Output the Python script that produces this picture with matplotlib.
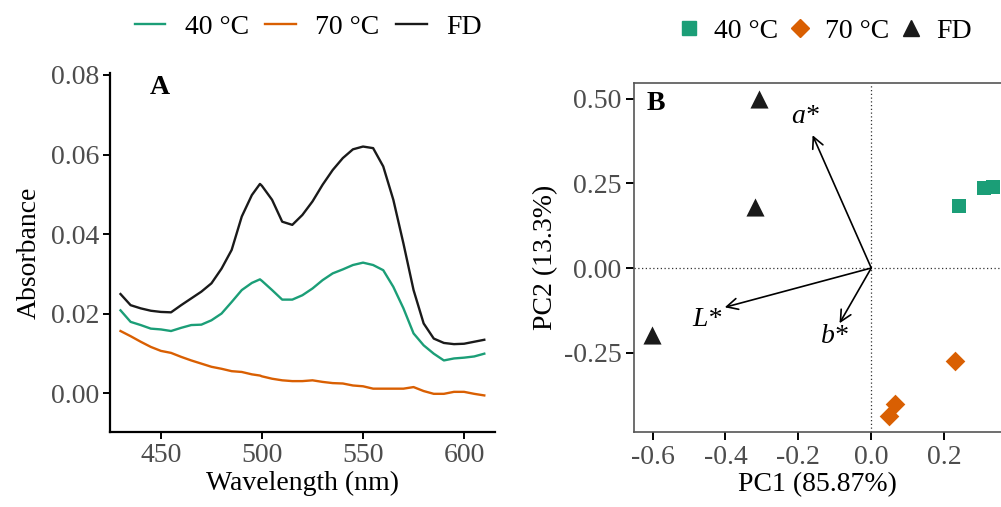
import numpy as np
import matplotlib
matplotlib.use("Agg")
import matplotlib.pyplot as plt
from matplotlib.lines import Line2D

# --- data ---
wavelength = [430, 435, 440, 445, 450, 455, 460, 465, 470, 475, 480, 485, 490, 495, 499,
              500, 505, 510, 515, 520, 525, 530, 535, 540, 545, 550, 555, 560, 565, 570,
              575, 580, 585, 590, 595, 600, 605, 610]
abs_fd = [0.0249, 0.0221, 0.0213, 0.0207, 0.0204, 0.0203, 0.0221, 0.0238, 0.0255, 0.0276,
          0.0313, 0.0360, 0.0444, 0.0498, 0.0526, 0.0521, 0.0486, 0.0431, 0.0423, 0.0448,
          0.0482, 0.0524, 0.0561, 0.0591, 0.0613, 0.0620, 0.0616, 0.0570, 0.0486, 0.0376,
          0.0259, 0.0175, 0.0137, 0.0126, 0.0123, 0.0124, 0.0129, 0.0134]
abs_40 = [0.0208, 0.0179, 0.0171, 0.0162, 0.0160, 0.0156, 0.0164, 0.0171, 0.0172, 0.0183,
          0.0200, 0.0229, 0.0259, 0.0277, 0.0286, 0.0282, 0.0259, 0.0235, 0.0235, 0.0246,
          0.0263, 0.0284, 0.0301, 0.0311, 0.0322, 0.0328, 0.0322, 0.0309, 0.0267, 0.0213,
          0.0150, 0.0120, 0.0099, 0.0082, 0.0087, 0.0089, 0.0092, 0.0099]
abs_70 = [0.0156, 0.0143, 0.0129, 0.0116, 0.0106, 0.0101, 0.0091, 0.0082, 0.0074, 0.0066,
          0.0061, 0.0055, 0.0053, 0.0047, 0.0044, 0.0042, 0.0036, 0.0032, 0.0030, 0.0030,
          0.0032, 0.0028, 0.0025, 0.0024, 0.0019, 0.0017, 0.0011, 0.0011, 0.0011, 0.0011,
          0.0015, 0.0005, -0.0002, -0.0002, 0.0003, 0.0003, -0.0002, -0.0006]

pc1_40 = [0.242, 0.310, 0.333]
pc2_40 = [0.183, 0.235, 0.238]
pc1_70 = [0.230, 0.066, 0.048]
pc2_70 = [-0.273, -0.402, -0.438]
pc1_fd = [-0.307, -0.318, -0.602]
pc2_fd = [0.498, 0.181, -0.198]

loading_names = ["a*", "L*", "b*"]
loading_x = [-0.161, -0.402, -0.087]
loading_y = [0.392, -0.116, -0.163]

groups = ["40 °C", "70 °C", "FD"]
colors = ["#1B9E77", "#D95F02", "#1A1A1A"]

plt.rcParams['font.family'] = ['Liberation Serif', 'DejaVu Serif']
plt.rcParams['font.size'] = 20
TICK_GREY = "#4D4D4D"

fig = plt.figure(figsize=(10.01, 5.07), dpi=100)

# --- panel A: spectra ---
axA = fig.add_axes([110 / 1001, 1 - 432 / 507, 385 / 1001, 359 / 507])
for y, c in zip([abs_40, abs_70, abs_fd], colors):
    axA.plot(wavelength, y, color=c, lw=1.7)
axA.set_xlim(424.8, 615.3)
axA.set_ylim(-0.0098, 0.0805)
axA.set_xticks([450, 500, 550, 600])
axA.set_yticks([0.00, 0.02, 0.04, 0.06, 0.08])
axA.set_yticklabels([f"{v:.2f}" for v in [0.00, 0.02, 0.04, 0.06, 0.08]])
axA.spines[['top', 'right']].set_visible(False)
for s in ['left', 'bottom']:
    axA.spines[s].set_linewidth(1.6)
    axA.spines[s].set_color('black')
axA.tick_params(length=5, width=1.4, colors='black', labelcolor=TICK_GREY, labelsize=20, pad=3)
axA.set_xlabel("Wavelength (nm)", fontsize=20, labelpad=2)
axA.set_ylabel("Absorbance", fontsize=20, labelpad=6)
axA.text(0.13, 0.96, "A", transform=axA.transAxes, fontsize=20, fontweight='bold', ha='center', va='center')

handlesA = [Line2D([], [], color=c, lw=1.7) for c in colors]
fig.legend(handlesA, groups, loc='center', bbox_to_anchor=(0.308, 0.946), ncol=3, frameon=False,
           handlelength=1.1, handletextpad=0.7, columnspacing=0.6, fontsize=20)

# --- panel B: PCA biplot ---
axB = fig.add_axes([634 / 1001, 1 - 432 / 507, 367 / 1001, 349 / 507])
axB.axhline(0, color='#333333', lw=0.9, ls=(0, (1, 2)), zorder=1)
axB.axvline(0, color='#333333', lw=0.9, ls=(0, (1, 2)), zorder=1)
axB.scatter(pc1_40, pc2_40, marker='s', s=110, color=colors[0], zorder=3, linewidths=0)
axB.scatter(pc1_70, pc2_70, marker='D', s=100, color=colors[1], zorder=3, linewidths=0)
axB.scatter(pc1_fd, pc2_fd, marker='^', s=170, color=colors[2], zorder=3, linewidths=0)
label_off = [(-0.020, 0.054), (-0.049, -0.037), (-0.012, -0.038)]
for name, lx, ly, (dx, dy) in zip(loading_names, loading_x, loading_y, label_off):
    axB.annotate("", xy=(lx, ly), xytext=(0, 0),
                 arrowprops=dict(arrowstyle='->', color='black', lw=1.2, mutation_scale=20,
                                 shrinkA=0, shrinkB=0))
    axB.text(lx + dx, ly + dy, name, fontsize=20, fontstyle='italic', ha='center', va='center')
axB.set_xlim(-0.651, 0.356)
axB.set_ylim(-0.484, 0.546)
axB.set_xticks([-0.6, -0.4, -0.2, 0.0, 0.2])
axB.set_xticklabels([f"{v:.1f}" for v in [-0.6, -0.4, -0.2, 0.0, 0.2]])
axB.set_yticks([-0.25, 0.0, 0.25, 0.5])
axB.set_yticklabels([f"{v:.2f}" for v in [-0.25, 0.0, 0.25, 0.5]])
axB.spines['right'].set_visible(False)
for s in ['left', 'bottom', 'top']:
    axB.spines[s].set_linewidth(1.2)
    axB.spines[s].set_color('#555555')
axB.tick_params(length=6, width=1.4, colors='black', labelcolor=TICK_GREY, labelsize=20, pad=3)
axB.set_xlabel("PC1 (85.87%)", fontsize=20, labelpad=2)
axB.set_ylabel("PC2 (13.3%)", fontsize=20, labelpad=4)
axB.text(0.06, 0.94, "B", transform=axB.transAxes, fontsize=20, fontweight='bold', ha='center', va='center')

handlesB = [Line2D([], [], ls='', marker=m, color=c, markersize=ms)
            for m, c, ms in zip(['s', 'D', '^'], colors, [10, 9, 12])]
fig.legend(handlesB, groups, loc='center', bbox_to_anchor=(0.824, 0.938), ncol=3, frameon=False,
           handlelength=0.8, handletextpad=0.5, columnspacing=0.4, fontsize=20)

fig.savefig("out.png", dpi=100)
